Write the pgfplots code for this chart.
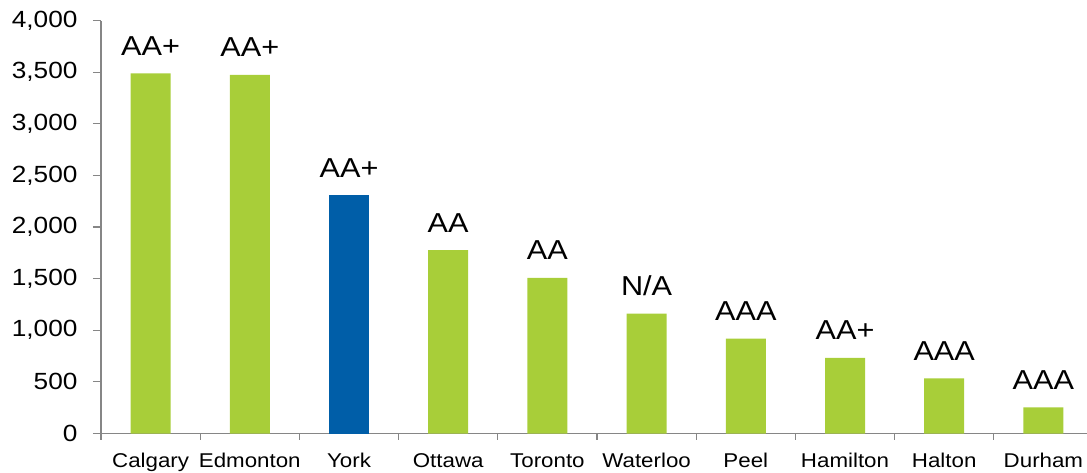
\documentclass[border=0pt]{standalone}
\usepackage{fontspec}
\setmainfont[FakeStretch=1.12]{Liberation Sans}
\usepackage{pgfplots}
\pgfplotsset{compat=1.18}
\definecolor{barg}{RGB}{168,206,57}
\definecolor{barb}{RGB}{0,94,168}
\definecolor{axg}{RGB}{134,134,134}
\begin{document}
\begin{tikzpicture}
\path[use as bounding box] (-101bp,-39.5bp) rectangle (986bp,433.5bp);
\begin{axis}[
  at={(0,0)}, anchor=south west,
  scale only axis, width=992bp, height=412.8bp,
  xmin=-0.5, xmax=9.5, ymin=0, ymax=4000,
  axis x line*=bottom, axis y line*=left,
  axis line style={draw=axg, line width=1.2bp},
  ytick={0,500,...,4000},
  xtick={0,...,9},
  xticklabels={Calgary,Edmonton,York,Ottawa,Toronto,Waterloo,Peel,Hamilton,Halton,Durham},
  major x tick style={draw=none},
  minor xtick={-0.5,0.5,...,9.5},
  tick align=outside,
  major tick length=8bp, minor tick length=6bp,
  every tick/.style={draw=axg, line width=1.2bp},
  /pgf/number format/.cd, 1000 sep={,}, assume math mode=true,
  /pgfplots/.cd,
  yticklabel style={font=\fontsize{23.5}{23.5}\selectfont, anchor=east, xshift=-12bp},
  xticklabel style={font=\fontsize{20}{20}\selectfont, anchor=base, yshift=-26bp},
  nodes near coords style={font=\fontsize{27.5}{27.5}\selectfont, anchor=base, yshift=18bp, inner sep=0pt, text=black},
]
\addplot[ybar, bar width=40bp, bar shift=0pt, fill=barg, draw=none,
  nodes near coords, point meta=explicit symbolic] table[meta=r] {
x y r
0 3490 AA+
1 3475 AA+
3 1778 AA
4 1507 AA
5 1161 N/A
6 919 AAA
7 732 AA+
8 535 AAA
9 254 AAA
};
\addplot[ybar, bar width=40bp, bar shift=0pt, fill=barb, draw=none,
  nodes near coords, point meta=explicit symbolic] table[meta=r] {
x y r
2 2311 AA+
};
\end{axis}
\end{tikzpicture}
\end{document}
